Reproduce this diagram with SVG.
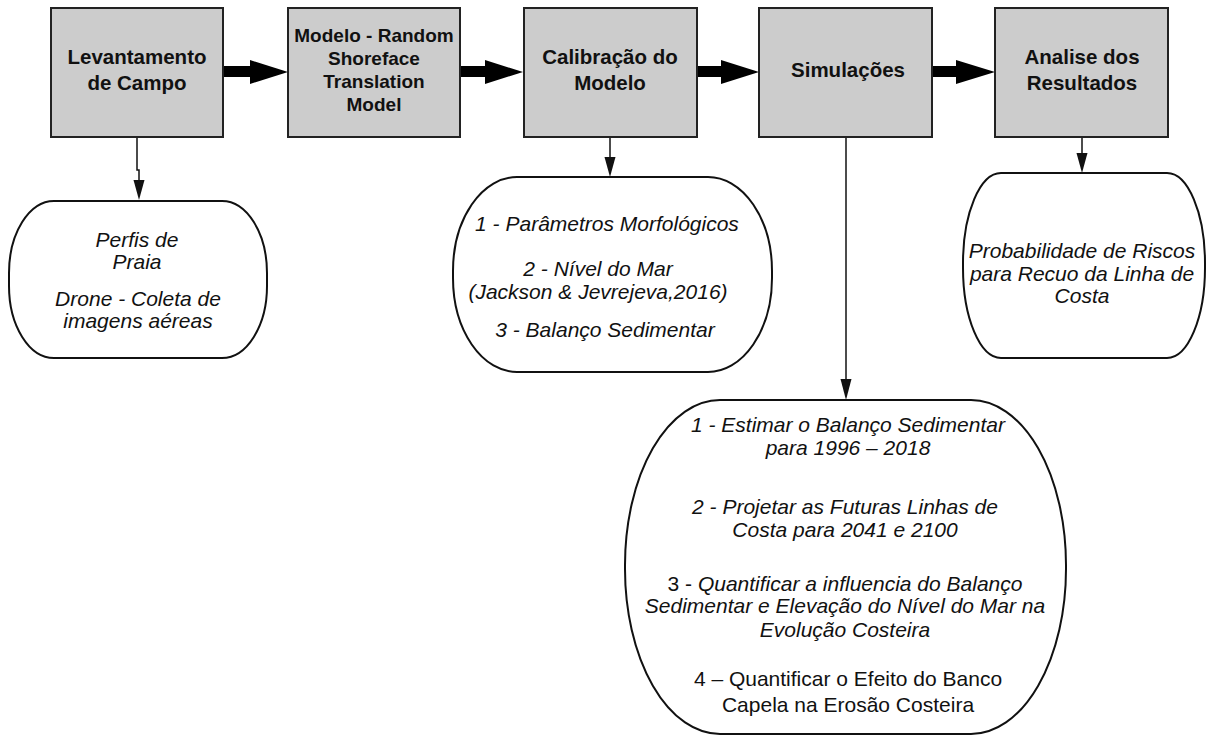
<svg xmlns="http://www.w3.org/2000/svg" width="1206" height="736" viewBox="0 0 1206 736">
<defs>
<style>
.box{fill:#cccccc;stroke:#222;stroke-width:2}
.oval{fill:#fff;stroke:#111;stroke-width:2}
.bt{font-family:"Liberation Sans",Arial,sans-serif;font-weight:bold;font-size:20.5px;fill:#111;text-anchor:middle}
.bt2{font-family:"Liberation Sans",Arial,sans-serif;font-weight:bold;font-size:19px;fill:#111;text-anchor:middle}
.it{font-family:"Liberation Sans",Arial,sans-serif;font-style:italic;font-size:21px;fill:#111;text-anchor:middle}
.nt{font-style:normal}
.ln{fill:none;stroke:#111;stroke-width:1.5}
.big{fill:#000}
.ah{fill:#111}
</style>
</defs>
<rect width="1206" height="736" fill="#fff"/>
<g id="connectors">
<rect class="big" x="223" y="66" width="30" height="11"/>
<polygon class="big" points="250,60 288,72 250,84"/>
<rect class="big" x="460" y="66" width="28" height="11"/>
<polygon class="big" points="485,60 523,72 485,84"/>
<rect class="big" x="697" y="66" width="27" height="11"/>
<polygon class="big" points="721,60 759,72 721,84"/>
<rect class="big" x="932" y="66" width="27" height="11"/>
<polygon class="big" points="956,60 995,72 956,84"/>
<path class="ln" d="M137,137 V170 H139 V180"/>
<polygon class="ah" points="133.5,180 144.5,180 139,200"/>
<path class="ln" d="M610,137 V158"/>
<polygon class="ah" points="604.5,157 615.5,157 610,177"/>
<path class="ln" d="M846,137 V380"/>
<polygon class="ah" points="840.5,379 851.5,379 846,400"/>
<path class="ln" d="M1082,137 V154"/>
<polygon class="ah" points="1076.5,153 1087.5,153 1082,173"/>
</g>
<g id="n1">
<rect class="box" x="51" y="8" width="172" height="129"/>
<text class="bt" x="137" y="64">Levantamento</text>
<text class="bt" x="137" y="90">de Campo</text>
</g>
<g id="n2">
<rect class="box" x="288" y="8" width="172" height="129"/>
<text class="bt2" x="374" y="42">Modelo - Random</text>
<text class="bt2" x="374" y="65">Shoreface</text>
<text class="bt2" x="374" y="88">Translation</text>
<text class="bt2" x="374" y="111">Model</text>
</g>
<g id="n3">
<rect class="box" x="524" y="8" width="173" height="129"/>
<text class="bt" x="610" y="64">Calibração do</text>
<text class="bt" x="610" y="90">Modelo</text>
</g>
<g id="n4">
<rect class="box" x="759" y="8" width="173" height="129"/>
<text class="bt" x="848" y="77">Simulações</text>
</g>
<g id="n5">
<rect class="box" x="995" y="8" width="173" height="129"/>
<text class="bt" x="1082" y="64">Analise dos</text>
<text class="bt" x="1082" y="90">Resultados</text>
</g>
<g id="o1">
<rect class="oval" x="9" y="201" width="258" height="157" rx="45" ry="72"/>
<text class="it" x="137" y="247">Perfis de</text>
<text class="it" x="137" y="269">Praia</text>
<text class="it" x="138" y="306">Drone - Coleta de</text>
<text class="it" x="138" y="328">imagens aéreas</text>
</g>
<g id="o3">
<rect class="oval" x="453" y="177" width="319" height="195" rx="64" ry="94"/>
<text class="it" x="607" y="231">1 - Parâmetros Morfológicos</text>
<text class="it" x="598" y="276">2 - Nível do Mar</text>
<text class="it" x="598" y="299">(Jackson &amp; Jevrejeva,2016)</text>
<text class="it" x="605" y="337">3 - Balanço Sedimentar</text>
</g>
<g id="o5">
<rect class="oval" x="963" y="173" width="242" height="185" rx="38" ry="90"/>
<text class="it" x="1082" y="258">Probabilidade de Riscos</text>
<text class="it" x="1082" y="281">para Recuo da Linha de</text>
<text class="it" x="1082" y="303">Costa</text>
</g>
<g id="o4">
<rect class="oval" x="625" y="400" width="441" height="334" rx="95" ry="165"/>
<text class="it" x="848" y="432">1 - Estimar o Balanço Sedimentar</text>
<text class="it" x="848" y="455">para 1996 – 2018</text>
<text class="it" x="845" y="514">2 - Projetar as Futuras Linhas de</text>
<text class="it" x="845" y="537">Costa para 2041 e 2100</text>
<text class="it" x="845" y="591"><tspan class="nt">3 - </tspan>Quantificar a influencia do Balanço</text>
<text class="it" x="845" y="613">Sedimentar e Elevação do Nível do Mar na</text>
<text class="it" x="845" y="637">Evolução Costeira</text>
<text class="it nt" x="848" y="686">4 – Quantificar o Efeito do Banco</text>
<text class="it nt" x="848" y="712">Capela na Erosão Costeira</text>
</g>
</svg>
